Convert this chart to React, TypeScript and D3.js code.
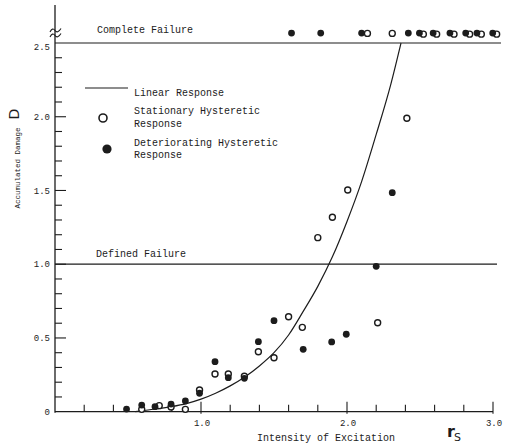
import React from "react";
import * as d3 from "d3";

// Linear response curve (accumulated damage vs. excitation intensity)
const linearR = [0.55, 0.7, 0.8, 0.9, 1.0, 1.1, 1.2, 1.3, 1.4, 1.5, 1.6, 1.7, 1.8, 1.9, 2.0, 2.1, 2.2, 2.3, 2.37];
const linearD = [0.0, 0.02, 0.035, 0.055, 0.085, 0.125, 0.175, 0.235, 0.31, 0.4, 0.52, 0.68, 0.85, 1.05, 1.29, 1.56, 1.88, 2.22, 2.5];

// Stationary hysteretic response (open circles)
const stationaryR = [0.594, 0.714, 0.795, 0.893, 0.99, 1.096, 1.187, 1.297, 1.393, 1.5, 1.6, 1.694, 1.8, 1.9, 2.005, 2.21, 2.41,
  2.14, 2.31, 2.523, 2.614, 2.733, 2.84, 2.92, 3.025];
const stationaryD = [0.016, 0.041, 0.032, 0.016, 0.147, 0.256, 0.256, 0.24, 0.407, 0.366, 0.644, 0.572, 1.18, 1.318, 1.503, 0.603, 1.99,
  2.565, 2.565, 2.56, 2.56, 2.56, 2.56, 2.56, 2.56];

// Deteriorating hysteretic response (filled circles)
const deterioratingR = [0.49, 0.594, 0.685, 0.795, 0.893, 0.99, 1.096, 1.187, 1.297, 1.393, 1.5, 1.7, 1.895, 1.995, 2.2, 2.31,
  1.62, 1.82, 2.1, 2.42, 2.496, 2.59, 2.705, 2.813, 2.89, 2.998];
const deterioratingD = [0.018, 0.045, 0.034, 0.052, 0.073, 0.125, 0.339, 0.231, 0.226, 0.475, 0.617, 0.423, 0.473, 0.525, 0.986, 1.485,
  2.567, 2.567, 2.567, 2.567, 2.567, 2.567, 2.567, 2.567, 2.567, 2.567];

// Axis ticks and reference levels
const xTickValues = [0.2, 0.4, 0.6, 0.8, 1.0, 1.2, 1.4, 1.6, 1.8, 2.0, 2.2, 2.4, 2.6, 2.8, 3.0];
const xTickLabels = ["1.0", "2.0", "3.0"];
const yTickValues = d3.range(1, 25).map((i) => i / 10);
const yTickLabels = ["0", "0.5", "1.0", "1.5", "2.0", "2.5"];
const failureLevels = [1.0, 2.5];

const W = 511;
const H = 445;
const INK = "#1c1c1c";
const MONO = "'Liberation Mono', 'DejaVu Sans Mono', monospace";

export default function App() {
  const x = d3.scaleLinear().domain([0, 3]).range([55, 493]);
  const y = d3.scaleLinear().domain([0, 2.5]).range([411.7, 43]);

  const line = d3
    .line<number>()
    .x((_, i) => x(linearR[i]))
    .y((_, i) => y(linearD[i]))
    .curve(d3.curveMonotoneX);

  const isMajorY = (v: number) => Math.abs(v * 2 - Math.round(v * 2)) < 1e-6;
  const isMajorX = (v: number) => Math.abs(v - Math.round(v)) < 1e-6;

  const x0 = x(0);
  const yBase = y(0);

  // squiggle marking the break in the vertical scale
  const br = (cy: number) =>
    `M ${x0 - 5} ${cy + 2} q 2.5 -5 5 -1.5 q 2.5 3.5 6 -2`;

  return (
    <svg
      width={W}
      height={H}
      viewBox={`0 0 ${W} ${H}`}
      style={{ position: "absolute", left: 0, top: 0, background: "#fff" }}
    >
      <rect width={W} height={H} fill="#fff" />

      {/* axes */}
      <line x1={x0} x2={x0} y1={5} y2={yBase + 1} stroke={INK} strokeWidth={1.3} />
      <line x1={x0} x2={x(3)} y1={yBase} y2={yBase} stroke={INK} strokeWidth={1.3} />
      <path d={br(30)} fill="none" stroke={INK} strokeWidth={1.1} />
      <path d={br(35)} fill="none" stroke={INK} strokeWidth={1.1} />

      {/* y ticks */}
      {yTickValues.map((v) => (
        <line
          key={"yt" + v}
          x1={x0}
          x2={x0 + (isMajorY(v) ? 11 : 7)}
          y1={y(v)}
          y2={y(v)}
          stroke={INK}
          strokeWidth={1.1}
        />
      ))}
      {yTickLabels.map((t) => (
        <text
          key={"yl" + t}
          x={50}
          y={y(+t) + (t === "2.5" ? 7 : 3.2)}
          textAnchor="end"
          fontFamily={MONO}
          fontSize={9}
          fill={INK}
        >
          {t}
        </text>
      ))}

      {/* x ticks */}
      {xTickValues.map((v) => (
        <line
          key={"xt" + v}
          x1={x(v)}
          x2={x(v)}
          y1={yBase - (isMajorX(v) ? 10 : 7)}
          y2={yBase + (isMajorX(v) ? 2 : 0)}
          stroke={INK}
          strokeWidth={1.1}
        />
      ))}
      {xTickLabels.map((t) => (
        <text
          key={"xl" + t}
          x={x(+t) + 1}
          y={426}
          textAnchor="middle"
          fontFamily={MONO}
          fontSize={9}
          fill={INK}
        >
          {t}
        </text>
      ))}

      {/* failure levels */}
      {failureLevels.map((v) => (
        <line
          key={"fl" + v}
          x1={x0}
          x2={v === 2.5 ? 501 : 497}
          y1={y(v)}
          y2={y(v)}
          stroke={INK}
          strokeWidth={1.2}
        />
      ))}
      <text x={97} y={33} fontFamily={MONO} fontSize={10} fill={INK}>
        Complete Failure
      </text>
      <text x={96} y={257} fontFamily={MONO} fontSize={10} fill={INK}>
        Defined Failure
      </text>

      {/* linear response */}
      <path d={line(linearR) ?? ""} fill="none" stroke={INK} strokeWidth={1.2} />

      {/* stationary hysteretic points */}
      {stationaryR.map((r, i) => (
        <circle
          key={"s" + i}
          cx={x(r)}
          cy={y(stationaryD[i])}
          r={3}
          fill="#fff"
          stroke={INK}
          strokeWidth={1.4}
        />
      ))}
      {/* deteriorating hysteretic points */}
      {deterioratingR.map((r, i) => (
        <circle key={"d" + i} cx={x(r)} cy={y(deterioratingD[i])} r={3.4} fill={INK} />
      ))}

      {/* legend */}
      <line x1={85} x2={128} y1={88} y2={88} stroke={INK} strokeWidth={1.2} />
      <text x={134} y={95.5} fontFamily={MONO} fontSize={10} fill={INK}>
        Linear Response
      </text>
      <circle cx={103} cy={118} r={4} fill="#fff" stroke={INK} strokeWidth={1.6} />
      <text x={134} y={114} fontFamily={MONO} fontSize={10} fill={INK}>
        Stationary Hysteretic
      </text>
      <text x={134} y={127} fontFamily={MONO} fontSize={10} fill={INK}>
        Response
      </text>
      <circle cx={107} cy={149} r={4.6} fill={INK} />
      <text x={134} y={146} fontFamily={MONO} fontSize={10} fill={INK}>
        Deteriorating Hysteretic
      </text>
      <text x={134} y={158} fontFamily={MONO} fontSize={10} fill={INK}>
        Response
      </text>

      {/* axis titles */}
      <text
        transform="translate(20,168) rotate(-90)"
        textAnchor="middle"
        fontFamily={MONO}
        fontSize={7.5}
        fill={INK}
      >
        Accumulated Damage
      </text>
      <text
        transform="translate(19,114) rotate(-90)"
        textAnchor="middle"
        fontFamily="'DejaVu Sans', sans-serif"
        fontSize={14}
        fill={INK}
      >
        D
      </text>
      <text x={326} y={441} textAnchor="middle" fontFamily={MONO} fontSize={10} fill={INK}>
        Intensity of Excitation
      </text>
      <text x={447} y={437} fontFamily="'DejaVu Sans', sans-serif" fontWeight="bold" fontSize={16} fill={INK}>
        r
        <tspan fontSize={11} fontWeight="normal" dy={4} dx={-1}>
          S
        </tspan>
      </text>
    </svg>
  );
}
